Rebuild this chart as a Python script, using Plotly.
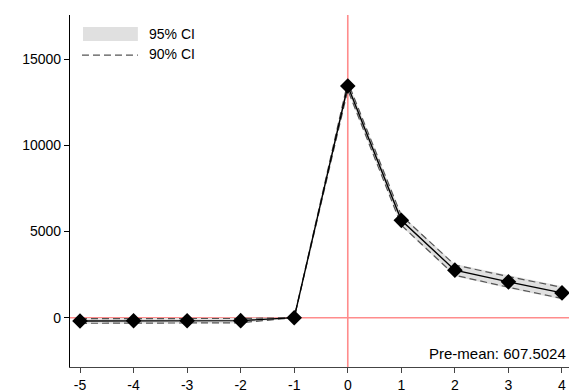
import plotly.graph_objects as go

periods = [-5, -4, -3, -2, -1, 0, 1, 2, 3, 4]
coef = [-190, -180, -175, -170, 0, 13450, 5650, 2760, 2080, 1440]
ci95_lo = [-350, -330, -325, -320, 0, 13170, 5320, 2400, 1710, 1060]
ci95_hi = [-30, -30, -25, -20, 0, 13730, 5980, 3120, 2450, 1820]
ci90_lo = [-325, -305, -300, -295, 0, 13215, 5370, 2460, 1770, 1120]
ci90_hi = [-55, -55, -50, -45, 0, 13685, 5930, 3060, 2390, 1760]
xticks = [-5, -4, -3, -2, -1, 0, 1, 2, 3, 4]
xticklabels = ["-5", "-4", "-3", "-2", "-1", "0", "1", "2", "3", "4"]
yticks = [0, 5000, 10000, 15000]
yticklabels = ["0", "5000", "10000", "15000"]
note_text = "Pre-mean: 607.5024"
legend_labels = ["95% CI", "90% CI"]

FONT = "Liberation Sans, Arial, sans-serif"
DASH = "7px,4px"
fig = go.Figure()

# 95% CI band
fig.add_trace(go.Scatter(x=periods, y=ci95_lo, mode="lines", line=dict(width=0),
                         showlegend=False, hoverinfo="skip"))
fig.add_trace(go.Scatter(x=periods, y=ci95_hi, mode="lines", line=dict(width=0),
                         fill="tonexty", fillcolor="#e0e0e0", showlegend=False, hoverinfo="skip"))
# 90% CI dashed lines
for arr in (ci90_lo, ci90_hi):
    fig.add_trace(go.Scatter(x=periods, y=arr, mode="lines",
                             line=dict(color="#555555", width=1.2, dash=DASH),
                             showlegend=False, hoverinfo="skip"))

# reference lines
fig.add_hline(y=0, line=dict(color="#ff8c8c", width=1.6), layer="below")
fig.add_vline(x=0, line=dict(color="#ff8c8c", width=1.6), layer="below")

# point estimates
fig.add_trace(go.Scatter(x=periods, y=coef, mode="lines+markers",
                         line=dict(color="black", width=1.4),
                         marker=dict(symbol="diamond", size=12, color="black"),
                         showlegend=False))

# manual legend
fig.add_shape(type="rect", xref="paper", yref="paper", x0=0.026, x1=0.136, y0=0.926, y1=0.966,
              fillcolor="#e0e0e0", line=dict(width=0))
fig.add_shape(type="line", xref="paper", yref="paper", x0=0.024, x1=0.136, y0=0.886, y1=0.886,
              line=dict(color="#555555", width=1.2, dash=DASH))
fig.add_annotation(xref="paper", yref="paper", x=0.154, y=0.946, text=legend_labels[0],
                   showarrow=False, xanchor="left", yanchor="middle",
                   font=dict(family=FONT, size=14, color="black"))
fig.add_annotation(xref="paper", yref="paper", x=0.154, y=0.889, text=legend_labels[1],
                   showarrow=False, xanchor="left", yanchor="middle",
                   font=dict(family=FONT, size=14, color="black"))
fig.add_annotation(xref="paper", yref="paper", x=0.998, y=0.037, text=note_text,
                   showarrow=False, xanchor="right", yanchor="middle",
                   font=dict(family=FONT, size=15, color="black"))

fig.update_layout(
    width=569, height=392,
    margin=dict(l=70, r=0, t=15, b=25),
    paper_bgcolor="white", plot_bgcolor="white",
    font=dict(family=FONT, size=14, color="black"),
    showlegend=False,
    xaxis=dict(range=[-5.187, 4.131], tickvals=xticks, ticktext=xticklabels,
               showgrid=False, zeroline=False,
               showline=True, linecolor="#444444", linewidth=1.2, ticks="outside",
               ticklen=5, tickcolor="#444444", tickfont=dict(size=14)),
    yaxis=dict(range=[-2862, 17572], tickvals=yticks, ticktext=yticklabels,
               showgrid=False, zeroline=False,
               showline=True, linecolor="black", linewidth=1.2, ticks="outside",
               ticklen=5, tickcolor="black", tickfont=dict(size=14)),
)

fig.write_html("out.html")
